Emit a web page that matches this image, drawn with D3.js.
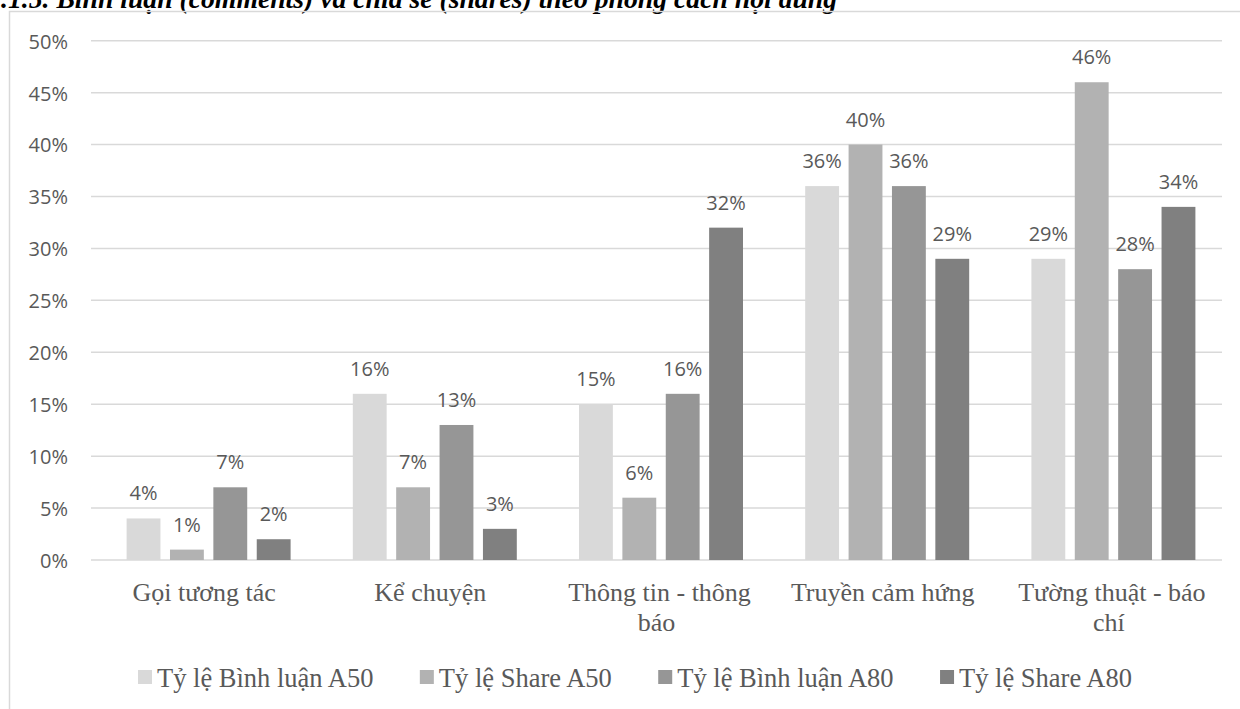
<!DOCTYPE html>
<html>
<head>
<meta charset="utf-8">
<script src="https://cdn.jsdelivr.net/npm/d3@7"></script>
<style>
  html, body { margin: 0; padding: 0; background: #fff; }
  svg { display: block; }
</style>
</head>
<body>
<svg id="chart" width="1240" height="709"></svg>
<script>
const titleText = ".1.5. Bình luận (comments) và chia sẻ (shares) theo phong cách nội dung";
const categories = ["Gọi tương tác", "Kể chuyện", "Thông tin - thông báo", "Truyền cảm hứng", "Tường thuật - báo chí"];
const seriesNames = ["Tỷ lệ Bình luận A50", "Tỷ lệ Share A50", "Tỷ lệ Bình luận A80", "Tỷ lệ Share A80"];
const commentA50 = [4, 16, 15, 36, 29];
const shareA50 = [1, 7, 6, 40, 46];
const commentA80 = [7, 13, 16, 36, 28];
const shareA80 = [2, 3, 32, 29, 34];
const yTicks = [0, 5, 10, 15, 20, 25, 30, 35, 40, 45, 50];
const seriesColors = ["#d9d9d9", "#b2b2b2", "#969696", "#808080"];

const seriesValues = [commentA50, shareA50, commentA80, shareA80];

const svg = d3.select("#chart");
const textColor = "#595959";
const sansFont = "'Open Sans', 'Noto Sans', sans-serif";
const serifFont = "'Liberation Serif', 'Times New Roman', serif";

// Title (partially cropped at top in the reference)
svg.append("text")
  .attr("x", 1).attr("y", 8)
  .attr("font-family", serifFont)
  .attr("font-weight", "bold")
  .attr("font-style", "italic")
  .attr("font-size", 27.7)
  .attr("fill", "#000")
  .text(titleText);

// Chart frame
svg.append("rect")
  .attr("x", 9.5).attr("y", 11.5)
  .attr("width", 1300).attr("height", 800)
  .attr("fill", "none")
  .attr("stroke", "#d9d9d9")
  .attr("stroke-width", 1.5);

const plotLeft = 91, plotRight = 1222;
const y = d3.scaleLinear().domain([0, 50]).range([560, 40.7]);
const x0 = d3.scaleBand().domain(categories).range([plotLeft, plotRight]).paddingInner(0).paddingOuter(0);
const barW = 32, barStep = 41;
const x1 = d3.scaleBand().domain(d3.range(seriesNames.length))
  .range([0, barStep * seriesNames.length]).paddingInner(9 / 41).paddingOuter(0);

// Gridlines
const grid = svg.append("g");
grid.selectAll("line").data(yTicks).join("line")
  .attr("x1", plotLeft).attr("x2", plotRight)
  .attr("y1", d => y(d)).attr("y2", d => y(d))
  .attr("stroke", "#d9d9d9").attr("stroke-width", 1.5);

// Y axis labels
const yAxis = d3.axisLeft(y).tickValues(yTicks).tickSize(0).tickPadding(0).tickFormat(d => d + "%");
const yg = svg.append("g").attr("transform", "translate(68,0)").call(yAxis);
yg.select(".domain").remove();
yg.selectAll("text")
  .attr("font-family", sansFont).attr("font-size", 20)
  .attr("fill", textColor).attr("dy", "0.37em");

// Bars
const groupW = x1.range()[1] - (barStep - barW);
const groups = svg.append("g").selectAll("g").data(categories).join("g")
  .attr("transform", d => `translate(${x0(d) + x0.bandwidth() / 2 - groupW / 2},0)`);

groups.each(function (cat, ci) {
  const g = d3.select(this);
  const data = seriesValues.map((vals, si) => ({ si, v: vals[ci] }));
  g.selectAll("rect").data(data).join("rect")
    .attr("x", d => x1(d.si))
    .attr("width", x1.bandwidth())
    .attr("y", d => y(d.v))
    .attr("height", d => y(0) - y(d.v))
    .attr("fill", d => seriesColors[d.si]);
  g.selectAll("text").data(data).join("text")
    .attr("x", d => x1(d.si) + x1.bandwidth() / 2)
    .attr("y", d => y(d.v) - 18)
    .attr("text-anchor", "middle")
    .attr("font-family", sansFont).attr("font-size", 20)
    .attr("fill", textColor)
    .text(d => d.v + "%");
});

// Category labels with wrapping
const catG = svg.append("g");
categories.forEach(cat => {
  const cx = x0(cat) + x0.bandwidth() / 2;
  const t = catG.append("text")
    .attr("text-anchor", "middle")
    .attr("font-family", serifFont).attr("font-size", 26)
    .attr("fill", textColor);
  const words = cat.split(" ");
  let lines = [], line = [];
  const tmp = t.append("tspan");
  words.forEach(w => {
    const test = line.concat([w]).join(" ");
    tmp.text(test);
    if (tmp.node().getComputedTextLength() > 205 && line.length) {
      lines.push(line.join(" "));
      line = [w];
    } else {
      line.push(w);
    }
  });
  lines.push(line.join(" "));
  tmp.remove();
  lines.forEach((ln, i) => {
    t.append("tspan")
      .attr("x", cx + (i < lines.length - 1 ? 3 : 0))
      .attr("y", 600.5 + i * 30)
      .text(ln);
  });
});

// Legend: spans from x=138 to x=1132
const legend = svg.append("g");
const legendLeft = 138, legendRight = 1132;
const entries = seriesNames.map((name, i) => {
  const g = legend.append("g");
  g.append("rect").attr("y", 670).attr("width", 14).attr("height", 14)
    .attr("fill", seriesColors[i]);
  const tx = g.append("text").attr("x", 19).attr("y", 686.5)
    .attr("font-family", serifFont).attr("font-size", 26.5)
    .attr("fill", textColor).text(name);
  return { g, w: 19 + tx.node().getComputedTextLength() };
});
const sumW = d3.sum(entries, e => e.w);
const gap = (legendRight - legendLeft - sumW) / (entries.length - 1);
let cursor = legendLeft;
entries.forEach(e => {
  e.g.attr("transform", `translate(${cursor},0)`);
  cursor += e.w + gap;
});
</script>
</body>
</html>
